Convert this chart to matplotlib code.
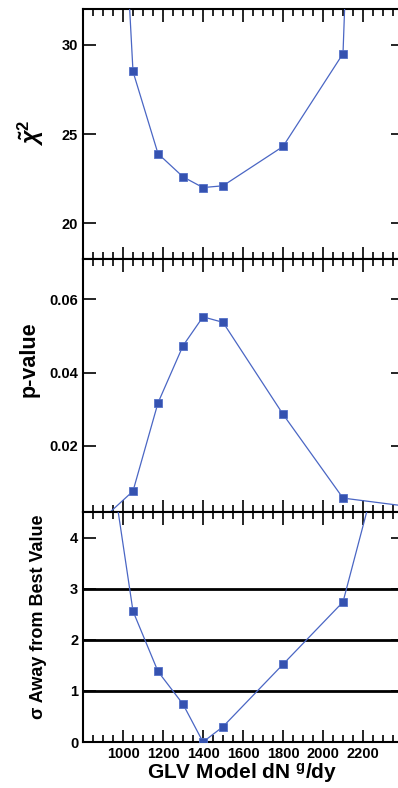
import numpy as np
import matplotlib
matplotlib.use('Agg')
import matplotlib.pyplot as plt
from matplotlib.ticker import MultipleLocator, FixedLocator

plt.rcParams['font.family'] = ['Liberation Sans', 'DejaVu Sans']
plt.rcParams['font.weight'] = 'bold'
plt.rcParams['mathtext.fontset'] = 'custom'
plt.rcParams['mathtext.rm'] = 'Liberation Sans'
plt.rcParams['mathtext.it'] = 'Liberation Sans:italic'
plt.rcParams['mathtext.bf'] = 'Liberation Sans:bold'

# GLV model dN^g/dy values (first and last points lie off the visible range)
dndy = [900, 1050, 1175, 1300, 1400, 1500, 1800, 2100, 2400]
# reduced chi2
chi2 = [60.0, 28.5, 23.9, 22.6, 22.0, 22.1, 24.3, 29.5, 123.0]
# p-values
pval = [0.0001, 0.0076, 0.0317, 0.0473, 0.0552, 0.0537, 0.0286, 0.0057, 0.0036]
# sigma away from best value
sigma = [6.5, 2.56, 1.38, 0.74, 0.0, 0.30, 1.52, 2.74, 7.2]
sigma_lines = [1, 2, 3]

W, H = 398, 788
fig = plt.figure(figsize=(W / 100, H / 100), dpi=100)

def box(x0, y0, x1, y1):
    return [x0 / W, 1 - y1 / H, (x1 - x0) / W, (y1 - y0) / H]

ax1 = fig.add_axes(box(83, 9, 403, 259))
ax2 = fig.add_axes(box(83, 259, 403, 512))
ax3 = fig.add_axes(box(83, 512, 403, 742))

blue = '#3552b0'
for ax, y in [(ax1, chi2), (ax2, pval), (ax3, sigma)]:
    ax.plot(dndy, y, color='#4a66c4', lw=0.9, marker='s', ms=5.3,
            mfc=blue, mec='#5470c8', mew=0.6, zorder=3)
    ax.set_xlim(800, 2400)
    ax.xaxis.set_major_locator(MultipleLocator(200))
    ax.xaxis.set_minor_locator(MultipleLocator(50))
    ax.tick_params(which='both', direction='in', top=True, right=True, width=1.2)
    ax.tick_params(which='major', length=9, labelsize=10.5)
    ax.tick_params(which='minor', length=5)
    for s in ax.spines.values():
        s.set_linewidth(1.5)

ax1.set_ylim(18, 32)
ax1.yaxis.set_major_locator(FixedLocator([20, 25, 30]))
ax1.tick_params(labelbottom=False)

ax2.set_ylim(0.0019, 0.071)
ax2.yaxis.set_major_locator(FixedLocator([0.02, 0.04, 0.06]))
ax2.set_yticklabels(['0.02', '0.04', '0.06'])
ax2.tick_params(labelbottom=False)

ax3.set_ylim(0, 4.5)
ax3.yaxis.set_major_locator(MultipleLocator(1))
for v in sigma_lines:
    ax3.axhline(v, color='black', lw=2, zorder=2)
ax3.set_xticks([1000, 1200, 1400, 1600, 1800, 2000, 2200])
ax3.set_xticklabels(['1000', '1200', '1400', '1600', '1800', '2000', '2200'])
for ax in (ax1, ax2, ax3):
    for lab in ax.get_xticklabels() + ax.get_yticklabels():
        lab.set_fontweight('bold')

fig.text(31 / W, 1 - 133 / H, r'$\tilde{\chi}^{2}$', rotation=90,
         ha='center', va='center', fontsize=17)
fig.text(29 / W, 1 - 359 / H, 'p-value', rotation=90,
         ha='center', va='center', fontsize=15.5, fontweight='bold')
fig.text(39 / W, 1 - 617 / H, 'σ Away from Best Value', rotation=90,
         ha='center', va='center', fontsize=13, fontweight='bold')
fig.text(242 / W, 1 - 773 / H, r'GLV Model dN $^{\mathbf{g}}$/dy',
         ha='center', va='center', fontsize=15, fontweight='bold')

fig.savefig('out.png', dpi=100)
